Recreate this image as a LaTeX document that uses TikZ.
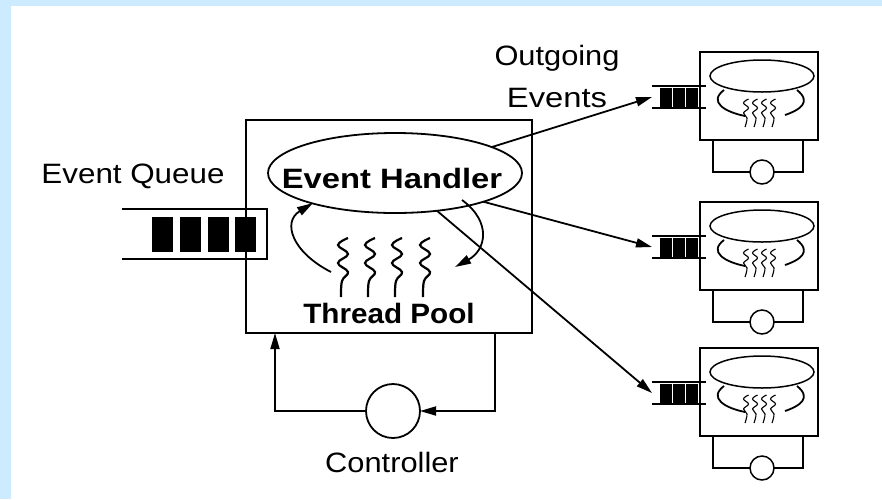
\documentclass[tikz,border=0pt]{standalone}
\usepackage{fontspec}
\setmainfont{Liberation Sans}
\usetikzlibrary{arrows.meta,shapes.geometric,calc}
\definecolor{skyedge}{RGB}{204,235,255}
\begin{document}
\begin{tikzpicture}[x=1pt,y=-1pt,
  every node/.style={inner sep=0pt,outer sep=0pt},
  lbl/.style={font=\fontsize{28}{30}\selectfont, anchor=base},
  lblb/.style={font=\fontsize{28}{30}\selectfont\bfseries, anchor=base},
  frame/.style={draw, line width=2pt},
  arr/.style={line width=1.8pt, -{Triangle[length=16pt,width=9pt]}},
  thread/.style={line width=2.2pt},
  sthread/.style={line width=1.1pt},
  sline/.style={line width=1.8pt}]
% page and its tinted edge
\fill[skyedge] (0,0) rectangle (882,499);
\fill[white] (11,6) rectangle (882,499);
\useasboundingbox (0,0) rectangle (882,499);

% incoming event queue
\draw[line width=2.8pt] (122,209) -- (267,209) -- (267,259) -- (122,259);
\foreach \x in {152,180,208,235} \fill (\x,217) rectangle ++(21,35);
\node[lbl] (eqlbl) at (133,183) {\scalebox{1.12}[1]{Event Queue}};

% stage box
\node[frame, minimum width=286pt, minimum height=213pt] (hub) at (389,226.5) {};

% event handler
\node[ellipse, draw, line width=1.8pt, minimum width=254pt, minimum height=80pt] (eh) at (395,173) {};
\node[lblb] (ehlbl) at (392,188) {\scalebox{1.17}[1]{Event Handler}};

% dispatch loop between handler and threads
\draw[arr] (331,272) .. controls (292,252) and (282,222) .. (313,203);
\draw[arr] (462,200) .. controls (492,222) and (486,250) .. (455,267);

% thread pool
\foreach \x in {343,370,397,425}
  \draw[thread] plot[smooth, tension=0.7] coordinates
    {(\x+5,238) (\x-5,245) (\x+5,254) (\x-5,263) (\x+5,272) (\x-1,281) (\x-2,297)};
\node[lblb] (tplbl) at (389,323) {\scalebox{1.06}[1]{Thread Pool}};

% controller feedback loop
\node[circle, draw, line width=1.8pt, minimum size=54pt] (ctl) at (393,411) {};
\node[lbl] (ctllbl) at (392,472) {\scalebox{1.1}[1]{Controller}};
\draw[arr] (ctl.west) -| ([xshift=29pt]hub.south west);
\draw[arr] ([xshift=-37pt]hub.south east) |- (ctl.east);

% outgoing events label
\node[lbl] (out1) at (557,65) {\scalebox{1.1}[1]{Outgoing}};
\node[lbl] (out2) at (557,107) {\scalebox{1.17}[1]{Events}};

% downstream stages
\foreach \i/\t in {1/52,2/202,3/348} {
  \node[draw, line width=1.8pt, minimum width=118pt, minimum height=88pt] (srv\i) at (759,\t+44) {};
  \node[ellipse, draw, line width=1.5pt, minimum width=104pt, minimum height=32pt] (seh\i) at (762,\t+24) {};
  \draw[sline] (724,\t+38) .. controls (708,\t+50) and (725,\t+60) .. (745,\t+64);
  \draw[sline] (797,\t+38) .. controls (812,\t+50) and (800,\t+58) .. (785,\t+63);
  \foreach \x in {746,755,764,773}
    \draw[sthread] plot[smooth, tension=0.7] coordinates
      {(\x+2.5,\t+47) (\x-2.5,\t+51) (\x+2.5,\t+56) (\x-2.5,\t+61) (\x+1,\t+66) (\x-1,\t+75)};
  % its input queue
  \node[minimum width=54pt, minimum height=22pt] (q\i) at (679,\t+45) {};
  \draw[line width=2pt] (q\i.north west) -- (q\i.north east);
  \draw[line width=2pt] (q\i.south west) -- (q\i.south east);
  \foreach \bx in {660,673,686} \fill (\bx,\t+36) rectangle ++(12,19);
  % its controller
  \node[circle, draw, line width=1.5pt, minimum size=24pt] (sc\i) at (762,\t+120) {};
  \draw[sline] ([xshift=13pt]srv\i.south west) |- (sc\i.west);
  \draw[sline] (sc\i.east) -| ([xshift=-15pt]srv\i.south east);
}

% events sent downstream
\draw[arr] (eh.15) -- (q1.west);
\draw[arr] (eh.-18) -- (q2.west);
\draw[arr] (eh.-42) -- (q3.west);
\end{tikzpicture}
\end{document}
